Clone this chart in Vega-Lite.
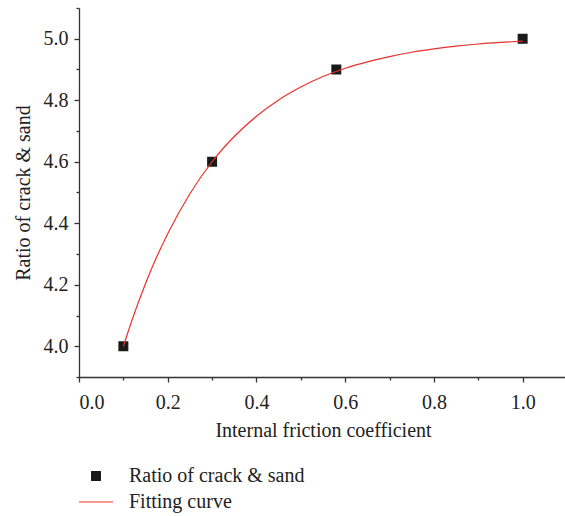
{
  "$schema": "https://vega.github.io/schema/vega-lite/v6.json",
  "width": 488,
  "height": 369,
  "autosize": {"type": "none"},
  "padding": {"left": 79, "top": 8, "right": 0, "bottom": 139},
  "background": "white",
  "config": {
    "font": "Liberation Serif",
    "view": {"stroke": null},
    "axis": {
      "grid": false,
      "domainColor": "#333333",
      "domainWidth": 1.3,
      "tickColor": "#333333",
      "tickWidth": 1.3,
      "labelFont": "Liberation Serif",
      "titleFont": "Liberation Serif",
      "labelFontSize": 20,
      "titleFontSize": 20,
      "labelColor": "#222222",
      "titleColor": "#222222",
      "titleFontWeight": "normal",
      "labelOverlap": false,
      "tickCount": 30
    }
  },
  "datasets": {
    "points": [
      {"x": 0.1, "y": 4.0, "series": "Ratio of crack & sand"},
      {"x": 0.3, "y": 4.6, "series": "Ratio of crack & sand"},
      {"x": 0.58, "y": 4.9, "series": "Ratio of crack & sand"},
      {"x": 1.0, "y": 5.0, "series": "Ratio of crack & sand"}
    ],
    "curve": [
      {"x": 0.1, "y": 4.0},
      {"x": 0.12, "y": 4.087},
      {"x": 0.15, "y": 4.204},
      {"x": 0.175, "y": 4.29},
      {"x": 0.2, "y": 4.366},
      {"x": 0.25, "y": 4.496},
      {"x": 0.3, "y": 4.6},
      {"x": 0.35, "y": 4.682},
      {"x": 0.4, "y": 4.748},
      {"x": 0.45, "y": 4.801},
      {"x": 0.5, "y": 4.843},
      {"x": 0.55, "y": 4.877},
      {"x": 0.6, "y": 4.904},
      {"x": 0.65, "y": 4.925},
      {"x": 0.7, "y": 4.942},
      {"x": 0.75, "y": 4.956},
      {"x": 0.8, "y": 4.967},
      {"x": 0.85, "y": 4.976},
      {"x": 0.9, "y": 4.983},
      {"x": 0.95, "y": 4.988},
      {"x": 1.0, "y": 4.992}
    ]
  },
  "layer": [
    {
      "data": {"name": "points"},
      "mark": {"type": "point", "filled": true, "size": 100, "opacity": 1},
      "encoding": {
        "x": {
          "field": "x",
          "type": "quantitative",
          "scale": {"domain": [0, 1.1], "nice": false, "zero": false},
          "axis": {
            "title": "Internal friction coefficient",
            "values": [0, 0.1, 0.2, 0.3, 0.4, 0.5, 0.6, 0.7, 0.8, 0.9, 1.0, 1.1],
            "tickCount": 30,
            "labelExpr": "round(datum.value*10) % 2 == 0 ? format(datum.value, '.1f') : ''",
            "tickSize": {"condition": {"test": "round(datum.value*10) % 2 == 0", "value": 5}, "value": 3},
            "labelPadding": 10,
            "titlePadding": 8
          }
        },
        "y": {
          "field": "y",
          "type": "quantitative",
          "scale": {"domain": [3.9, 5.1], "nice": false, "zero": false},
          "axis": {
            "title": "Ratio of crack & sand",
            "values": [3.9, 4.0, 4.1, 4.2, 4.3, 4.4, 4.5, 4.6, 4.7, 4.8, 4.9, 5.0, 5.1],
            "tickCount": 30,
            "labelExpr": "round(datum.value*10) % 2 == 0 ? format(datum.value, '.1f') : ''",
            "tickSize": {"condition": {"test": "round(datum.value*10) % 2 == 0", "value": 5}, "value": 3},
            "labelPadding": 6,
            "titlePadding": 10
          }
        },
        "color": {
          "field": "series",
          "type": "nominal",
          "scale": {"domain": ["Ratio of crack & sand", "Fitting curve"], "range": ["#1a1a1a", "#e8322a"]},
          "legend": {
            "title": null,
            "orient": "none",
            "legendX": 7,
            "legendY": 458,
            "padding": 0,
            "labelFont": "Liberation Serif",
            "labelFontSize": 20,
            "labelColor": "#222222",
            "labelOffset": 23,
            "labelLimit": 400,
            "rowPadding": 6,
            "symbolSize": 100,
            "symbolStrokeWidth": 0
          }
        },
        "shape": {
          "field": "series",
          "type": "nominal",
          "scale": {"domain": ["Ratio of crack & sand", "Fitting curve"], "range": ["square", "M-3.4,-0.1H3.4V0.1H-3.4Z"]},
          "legend": {
            "title": null,
            "orient": "none",
            "legendX": 7,
            "legendY": 458,
            "padding": 0,
            "labelFont": "Liberation Serif",
            "labelFontSize": 20,
            "labelColor": "#222222",
            "labelOffset": 23,
            "labelLimit": 400,
            "rowPadding": 6,
            "symbolSize": 100,
            "symbolStrokeWidth": 0
          }
        }
      }
    },
    {
      "data": {"name": "curve"},
      "mark": {"type": "line", "color": "#e8322a", "strokeWidth": 1.2, "interpolate": "monotone"},
      "encoding": {
        "x": {"field": "x", "type": "quantitative"},
        "y": {"field": "y", "type": "quantitative"}
      }
    }
  ]
}
